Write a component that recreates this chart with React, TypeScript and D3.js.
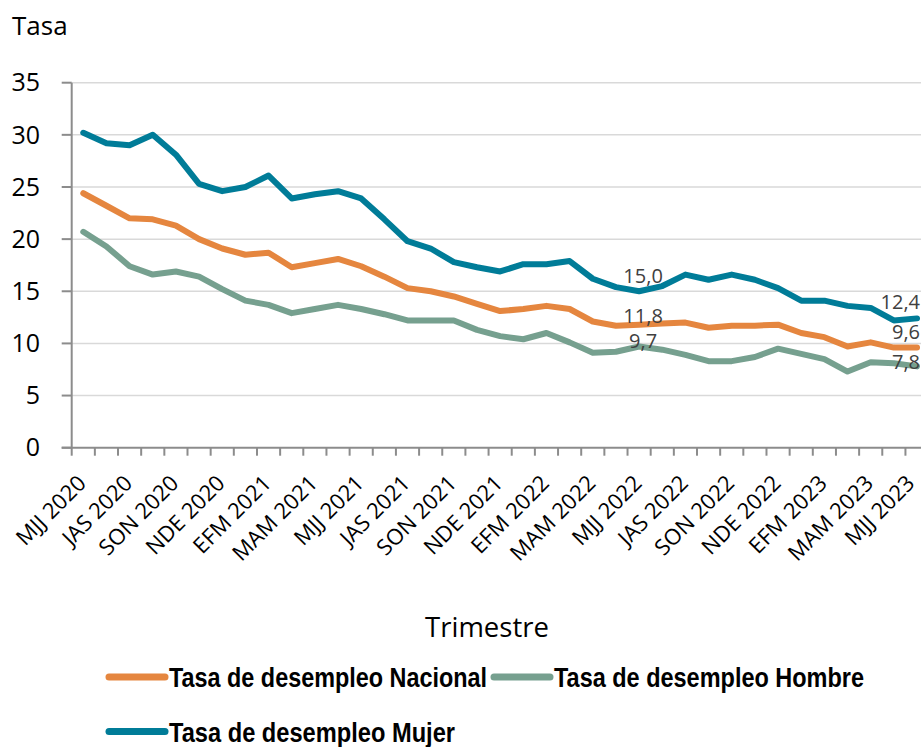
import React from 'react';
import { scaleBand, scaleLinear, line, format } from 'd3';

const categories = [
  'MJJ 2020', 'JJA 2020', 'JAS 2020', 'ASO 2020', 'SON 2020', 'OND 2020', 'NDE 2020',
  'DEF 2021', 'EFM 2021', 'FMA 2021', 'MAM 2021', 'AMJ 2021', 'MJJ 2021', 'JJA 2021',
  'JAS 2021', 'ASO 2021', 'SON 2021', 'OND 2021', 'NDE 2021',
  'DEF 2022', 'EFM 2022', 'FMA 2022', 'MAM 2022', 'AMJ 2022', 'MJJ 2022', 'JJA 2022',
  'JAS 2022', 'ASO 2022', 'SON 2022', 'OND 2022', 'NDE 2022',
  'DEF 2023', 'EFM 2023', 'FMA 2023', 'MAM 2023', 'AMJ 2023', 'MJJ 2023',
];

const nacional = [
  24.4, 23.2, 22.0, 21.9, 21.3, 20.0, 19.1, 18.5, 18.7, 17.3, 17.7, 18.1, 17.4, 16.4, 15.3, 15.0, 14.5,
  13.8, 13.1, 13.3, 13.6, 13.3, 12.1, 11.7, 11.8, 11.9, 12.0, 11.5, 11.7, 11.7, 11.8, 11.0, 10.6, 9.7,
  10.1, 9.6, 9.6,
];
const hombre = [
  20.7, 19.3, 17.4, 16.6, 16.9, 16.4, 15.2, 14.1, 13.7, 12.9, 13.3, 13.7, 13.3, 12.8, 12.2, 12.2, 12.2,
  11.3, 10.7, 10.4, 11.0, 10.1, 9.1, 9.2, 9.7, 9.4, 8.9, 8.3, 8.3, 8.7, 9.5, 9.0, 8.5, 7.3, 8.2, 8.1, 7.8,
];
const mujer = [
  30.2, 29.2, 29.0, 30.0, 28.1, 25.3, 24.6, 25.0, 26.1, 23.9, 24.3, 24.6, 23.9, 21.9, 19.8, 19.1, 17.8,
  17.3, 16.9, 17.6, 17.6, 17.9, 16.2, 15.4, 15.0, 15.5, 16.6, 16.1, 16.6, 16.1, 15.3, 14.1, 14.1, 13.6,
  13.4, 12.2, 12.4,
];

const yTicks = [0, 5, 10, 15, 20, 25, 30, 35];
const labelledPoints = [24, 36];

const series = [
  { name: 'Tasa de desempleo Nacional', values: nacional, color: '#E5863F', dy: [-2, -9], lx: 109, ly: 677, tw: 318 },
  { name: 'Tasa de desempleo Hombre', values: hombre, color: '#76A08F', dy: [1, 3], lx: 494, ly: 677, tw: 310 },
  { name: 'Tasa de desempleo Mujer', values: mujer, color: '#007C98', dy: [-8, -9], lx: 109, ly: 731.5, tw: 286 },
];

const W = 921;
const H = 747;
const left = 71.7;
const right = 928.6;
const top = 82.7;
const bottom = 447.7;

const font = "'Open Sans', 'Noto Sans', sans-serif";
const boldFont = "'Liberation Sans', Arial, sans-serif";
const fmt = (v: number) => format('.1f')(v).replace('.', ',');

const App: React.FC = () => {
  const x = scaleBand<string>().domain(categories).range([left, right]).padding(0);
  const y = scaleLinear().domain([0, 35]).range([bottom, top]);
  const cx = (i: number) => x(categories[i])! + x.bandwidth() / 2;

  const path = line<number>()
    .x((_, i) => cx(i))
    .y(d => y(d));

  return (
    <svg width={W} height={H} style={{ position: 'absolute', left: 0, top: 0, background: '#fff' }}>
      <text x={12} y={35} fontFamily={font} fontSize={26} fill="#000">Tasa</text>

      {yTicks.map(t => (
        <g key={t}>
          {t > 0 && <line x1={left} x2={W} y1={y(t)} y2={y(t)} stroke="#D9D9D9" strokeWidth={1.5} />}
          <line x1={left - 10} x2={left} y1={y(t)} y2={y(t)} stroke="#8C8C8C" strokeWidth={2} />
          <text x={40} y={y(t)} dy="0.35em" textAnchor="end" fontFamily={font} fontSize={25} fill="#000">{t}</text>
        </g>
      ))}

      <line x1={left} x2={left} y1={top} y2={bottom} stroke="#8C8C8C" strokeWidth={2} />
      <line x1={left - 10} x2={W} y1={bottom} y2={bottom} stroke="#8C8C8C" strokeWidth={2} />
      {categories.map(c => (
        <line key={c} x1={x(c)!} x2={x(c)!} y1={bottom} y2={bottom + 8} stroke="#8C8C8C" strokeWidth={2} />
      ))}
      {categories.map((c, i) => i % 2 === 0 ? (
        <text key={c} transform={`translate(${Math.min(cx(i) + 4, 916)},${bottom + 37}) rotate(-45)`} textAnchor="end"
          fontFamily={font} fontSize={22} fill="#000">{c}</text>
      ) : null)}

      {series.map(s => (
        <path key={s.name} d={path(s.values)!} fill="none" stroke={s.color} strokeWidth={6}
          strokeLinejoin="round" strokeLinecap="round" />
      ))}

      {series.map(s => labelledPoints.map((p, k) => (
        <text key={s.name + p} x={k === 1 ? 920 : cx(p) + 4} y={y(s.values[p]) + s.dy[k]}
          textAnchor={k === 1 ? 'end' : 'middle'} fontFamily={font} fontSize={20} fill="#404040">
          {fmt(s.values[p])}
        </text>
      )))}

      <text x={487} y={637} textAnchor="middle" fontFamily={font} fontSize={27.5} fill="#000">Trimestre</text>

      {series.map(s => (
        <g key={s.name}>
          <line x1={s.lx} x2={s.lx + 56} y1={s.ly} y2={s.ly} stroke={s.color} strokeWidth={7} strokeLinecap="round" />
          <text x={s.lx + 60} y={s.ly} dy="0.37em" fontFamily={boldFont} fontWeight="bold" fontSize={27.5}
            textLength={s.tw} lengthAdjust="spacingAndGlyphs" fill="#000">{s.name}</text>
        </g>
      ))}
    </svg>
  );
};

export default App;
